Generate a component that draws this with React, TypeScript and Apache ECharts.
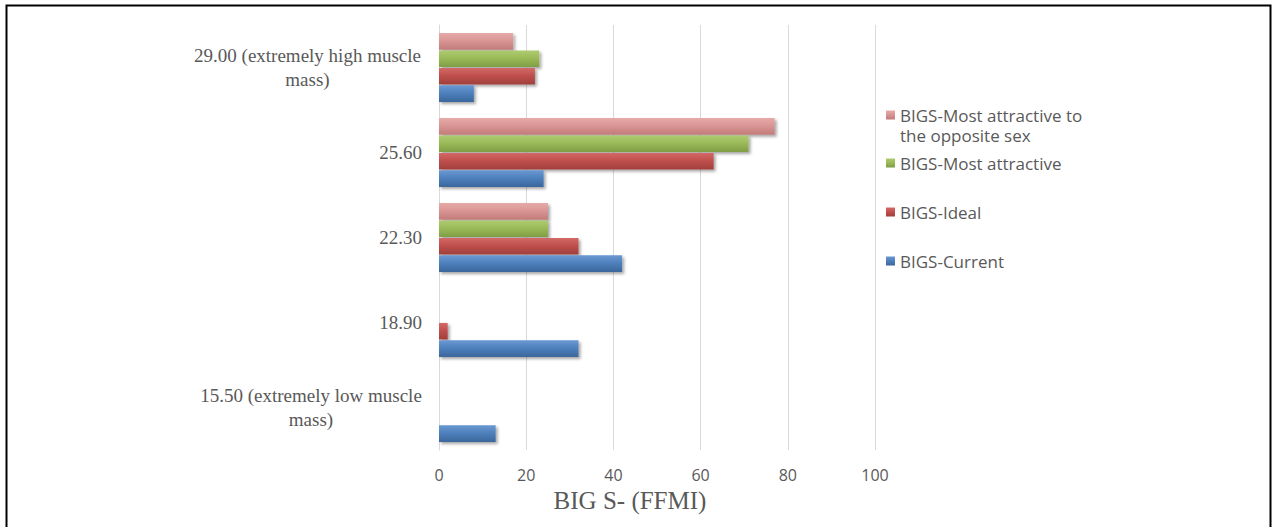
import { useEffect, useRef } from "react";
import * as echarts from "echarts";

// FFMI categories, listed bottom to top
const categories = [
  "15.50 (extremely low muscle\nmass)",
  "18.90",
  "22.30",
  "25.60",
  "29.00 (extremely high muscle\nmass)",
];

// Series, in the order they stack inside each group (top first)
const seriesNames = [
  "BIGS-Most attractive to the opposite sex",
  "BIGS-Most attractive",
  "BIGS-Ideal",
  "BIGS-Current",
];

const mostAttractiveOpposite = [0, 0, 25, 77, 17];
const mostAttractive = [0, 0, 25, 71, 23];
const ideal = [0, 2, 32, 63, 22];
const current = [13, 32, 42, 24, 8];

const xTicks = [0, 20, 40, 60, 80, 100];

const palette = [
  ["#e6aaa9", "#d99694", "#c27c7a"],
  ["#aecb70", "#9bbb59", "#7f9d44"],
  ["#d36a67", "#c0504d", "#a03f3c"],
  ["#6a98d2", "#4f81bd", "#3b679c"],
];

const GRAY = "#595959";
const SERIF = "'Liberation Serif', 'Times New Roman', serif";
const SANS = "'Open Sans', 'Noto Sans', sans-serif";

function barFill(c: string[]) {
  return new echarts.graphic.LinearGradient(0, 0, 0, 1, [
    { offset: 0, color: c[0] },
    { offset: 0.45, color: c[1] },
    { offset: 1, color: c[2] },
  ]);
}

export default function App() {
  const ref = useRef<HTMLDivElement>(null);

  useEffect(() => {
    if (!ref.current) return;
    const chart = echarts.init(ref.current, null, { renderer: "svg" });
    const values = [mostAttractiveOpposite, mostAttractive, ideal, current];
    const legendTops = [115, 163, 212, 261];

    const legendCfg = seriesNames.map((name, i) => ({
      show: true,
      orient: "vertical" as const,
      left: 886,
      top: legendTops[i] - 11,
      padding: 0,
      itemWidth: 9,
      itemHeight: 9,
      itemGap: 0,
      icon: "rect",
      selectedMode: false,
      data: [name],
      formatter: (n: string) =>
        n === seriesNames[0] ? "BIGS-Most attractive to" : n,
      textStyle: {
        fontFamily: SANS,
        fontSize: 17,
        color: GRAY,
        lineHeight: 22,
      },
    }));

    chart.setOption({
      animation: false,
      backgroundColor: "#ffffff",
      grid: { left: 439, right: 398, top: 25, bottom: 77 },
      legend: legendCfg,
      xAxis: {
        type: "value",
        min: xTicks[0],
        max: xTicks[xTicks.length - 1],
        interval: xTicks[1] - xTicks[0],
        name: "BIG S- (FFMI)",
        nameLocation: "middle",
        nameGap: 34,
        nameTextStyle: {
          fontFamily: SERIF,
          fontSize: 25,
          color: GRAY,
          padding: [0, 54, 0, 0],
        },
        axisLine: { show: false },
        axisTick: { show: false },
        axisLabel: {
          margin: 17,
          fontFamily: SANS,
          fontSize: 16,
          color: GRAY,
        },
        splitLine: { show: true, lineStyle: { color: "#d9d9d9", width: 1 } },
      },
      yAxis: {
        type: "category",
        data: categories,
        axisLine: { show: true, lineStyle: { color: "#d9d9d9", width: 1 } },
        axisTick: { show: false },
        axisLabel: {
          margin: 17,
          fontFamily: SERIF,
          fontSize: 19,
          color: GRAY,
          lineHeight: 24,
          formatter: (v: string) => {
            const lines = v.split("\n");
            if (lines.length === 1) return v;
            const key = v.startsWith("29") ? "hi" : "lo";
            return lines.map((l) => `{${key}|${l}}`).join("\n");
          },
          rich: {
            hi: {
              width: 229,
              align: "center",
              fontFamily: SERIF,
              fontSize: 19,
              color: GRAY,
              lineHeight: 24,
            },
            lo: {
              width: 222,
              align: "center",
              fontFamily: SERIF,
              fontSize: 19,
              color: GRAY,
              lineHeight: 24,
            },
          },
        },
      },
      series: seriesNames.map((name, i) => ({
        name,
        type: "bar",
        data: values[i],
        barGap: "5%",
        barCategoryGap: "19%",
        itemStyle: {
          color: barFill(palette[i]),
          shadowBlur: 3,
          shadowColor: "rgba(0,0,0,0.35)",
          shadowOffsetX: 2,
          shadowOffsetY: 2,
        },
      })),
      graphic: [
        {
          type: "text",
          left: 900,
          top: 127,
          style: {
            text: "the opposite sex",
            fontFamily: SANS,
            fontSize: 17,
            fill: GRAY,
          },
        },
        {
          type: "polyline",
          shape: {
            points: [
              [6.5, 527],
              [6.5, 5.5],
              [1270.5, 5.5],
              [1270.5, 527],
            ],
          },
          style: { stroke: "#000000", lineWidth: 2, fill: "none" },
        },
      ],
    });

    return () => chart.dispose();
  }, []);

  return (
    <div
      ref={ref}
      style={{ position: "absolute", left: 0, top: 0, width: 1273, height: 527 }}
    />
  );
}
